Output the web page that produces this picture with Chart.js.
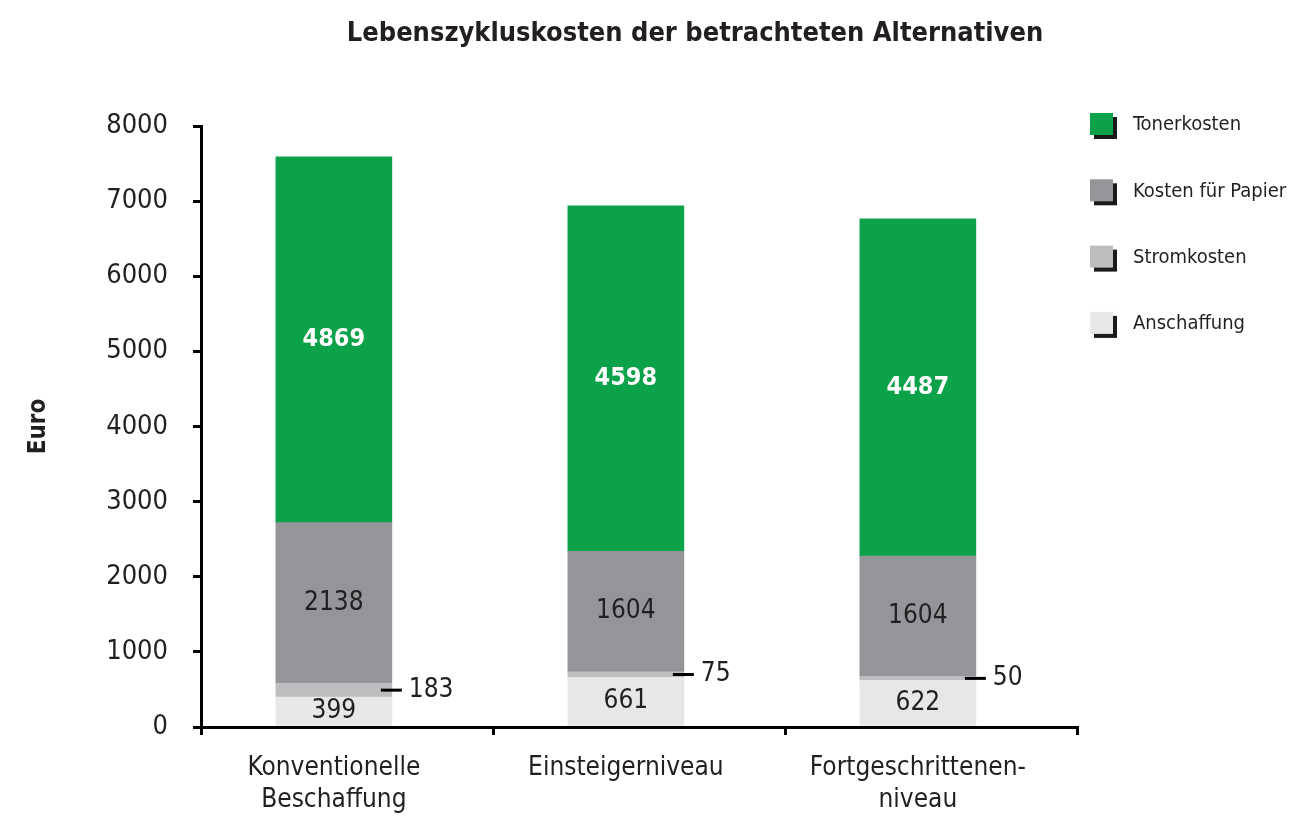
<!DOCTYPE html>
<html>
<head>
<meta charset="utf-8">
<script src="https://cdn.jsdelivr.net/npm/chart.js@4.4.1/dist/chart.umd.min.js"></script>
<style>
  html, body { margin: 0; padding: 0; background: #ffffff; }
  #wrap { width: 1310px; height: 826px; position: relative; }
  canvas { display: block; }
</style>
</head>
<body>
<div id="wrap"><canvas id="c" width="1310" height="826"></canvas></div>
<script>
// ---- data ----
const chartTitle = 'Lebenszykluskosten der betrachteten Alternativen';
const yAxisTitle = 'Euro';
const categories = [['Konventionelle', 'Beschaffung'], ['Einsteigerniveau'], ['Fortgeschrittenen-', 'niveau']];
const seriesNames = ['Anschaffung', 'Stromkosten', 'Kosten für Papier', 'Tonerkosten'];
const anschaffung = [399, 661, 622];
const stromkosten = [183, 75, 50];
const papierkosten = [2138, 1604, 1604];
const tonerkosten = [4869, 4598, 4487];
const yMin = 0;
const yMax = 8000;
const yStep = 1000;

// ---- style ----
const FONT = '"DejaVu Sans Condensed", "Liberation Sans Narrow", "DejaVu Sans", sans-serif';
const TXT = '#231f20';
const colors = ['#e6e7e8', '#bcbec0', '#939598', '#0ca24a'];
const labelColors = [TXT, TXT, TXT, '#ffffff'];
const labelBold = [false, false, false, true];
const labelOutside = [false, true, false, false];

const seriesValues = [anschaffung, stromkosten, papierkosten, tonerkosten];
const catIdx = categories.map((c, i) => i);
const xMin = -0.455, xMax = 2.545;
const sepTicks = [xMin, xMin + 1, xMin + 2, xMax];

const datasets = seriesNames.map((name, s) => ({
  label: name,
  data: catIdx.map(i => ({ x: i, y: seriesValues[s][i] })),
  backgroundColor: colors[s],
  borderWidth: 0,
  barThickness: 116,
  xAxisID: 'x',
  yAxisID: 'y'
}));

const titlePlugin = {
  id: 'titlePlugin',
  afterDraw(chart) {
    const ctx = chart.ctx;
    ctx.save();
    ctx.fillStyle = TXT;
    ctx.font = 'bold 27px ' + FONT;
    ctx.textAlign = 'center';
    ctx.textBaseline = 'middle';
    ctx.fillText(chartTitle, 695, 34);
    ctx.restore();
  }
};

const legendPlugin = {
  id: 'sideLegend',
  afterDraw(chart) {
    const ctx = chart.ctx;
    const ds = chart.data.datasets.slice().reverse();
    ctx.save();
    ds.forEach((d, k) => {
      const cy = 124 + k * 66.3;
      const bx = 1090, bw = 23, bh = 22;
      ctx.fillStyle = '#1a1a1a';
      ctx.fillRect(bx + 4, cy - bh / 2 + 4, bw, bh);
      ctx.fillStyle = d.backgroundColor;
      ctx.fillRect(bx, cy - bh / 2, bw, bh);
      ctx.fillStyle = TXT;
      ctx.font = '20px ' + FONT;
      ctx.textAlign = 'left';
      ctx.textBaseline = 'middle';
      ctx.fillText(d.label, 1133, cy + 1);
    });
    ctx.restore();
  }
};

const valueLabels = {
  id: 'valueLabels',
  afterDatasetsDraw(chart) {
    const ctx = chart.ctx;
    ctx.save();
    chart.data.datasets.forEach((d, di) => {
      const meta = chart.getDatasetMeta(di);
      meta.data.forEach((bar, i) => {
        const p = bar.getProps(['x', 'y', 'base', 'width'], true);
        const cy = (p.y + p.base) / 2;
        const val = String(seriesValues[di][i]);
        ctx.font = (labelBold[di] ? '600 25px ' : '26px ') + FONT;
        ctx.fillStyle = labelColors[di];
        ctx.textBaseline = 'middle';
        if (labelOutside[di]) {
          const right = p.x + p.width / 2;
          ctx.strokeStyle = '#000';
          ctx.lineWidth = 3;
          ctx.beginPath();
          ctx.moveTo(right - 11, cy);
          ctx.lineTo(right + 10, cy);
          ctx.stroke();
          ctx.textAlign = 'left';
          ctx.fillText(val, right + 17, cy);
        } else {
          ctx.textAlign = 'center';
          ctx.fillText(val, p.x, cy);
        }
      });
    });
    ctx.restore();
  }
};

new Chart(document.getElementById('c'), {
  type: 'bar',
  data: { datasets },
  options: {
    responsive: false,
    animation: false,
    layout: { padding: { left: 0, top: 126, right: 233, bottom: 0 } },
    plugins: {
      legend: { display: false },
      title: { display: false },
      tooltip: { enabled: false }
    },
    scales: {
      x: {
        type: 'linear',
        position: 'bottom',
        stacked: true,
        offset: false,
        min: xMin,
        max: xMax,
        afterBuildTicks: (axis) => { axis.ticks = sepTicks.map(v => ({ value: v })); },
        ticks: { display: false },
        grid: { offset: false, drawOnChartArea: false, drawTicks: true, tickLength: 8, color: '#000', lineWidth: 3 },
        border: { display: true, color: '#000', width: 3 }
      },
      x2: {
        type: 'linear',
        position: 'bottom',
        offset: false,
        min: xMin,
        max: xMax,
        afterBuildTicks: (axis) => { axis.ticks = catIdx.map(v => ({ value: v })); },
        afterFit: (axis) => { axis.height = 91; },
        ticks: {
          autoSkip: false,
          maxRotation: 0,
          padding: 18,
          color: TXT,
          font: { family: FONT, size: 26, lineHeight: 1.2 },
          callback: (v, idx) => categories[idx]
        },
        grid: { display: false, offset: false, drawTicks: false },
        border: { display: false }
      },
      y: {
        stacked: true,
        min: yMin,
        max: yMax,
        afterFit: (axis) => { axis.width = 201; },
        ticks: { stepSize: yStep, padding: 25, color: TXT, font: { family: FONT, size: 27 }, callback: (v) => String(v) },
        grid: { drawOnChartArea: false, drawTicks: true, tickLength: 8, color: '#000', lineWidth: 3 },
        border: { display: true, color: '#000', width: 3 },
        title: { display: true, text: yAxisTitle, color: TXT, font: { family: FONT, size: 24, weight: 'bold' }, padding: { top: 24, bottom: 0 } }
      }
    }
  },
  plugins: [valueLabels, titlePlugin, legendPlugin]
});
</script>
</body>
</html>
